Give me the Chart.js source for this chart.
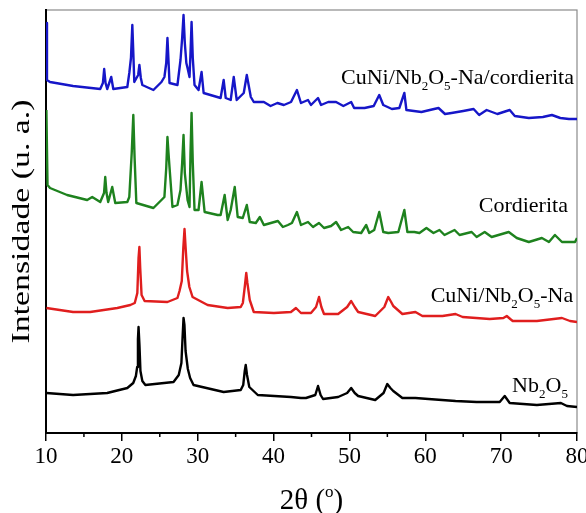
<!DOCTYPE html>
<html>
<head>
<meta charset="utf-8">
<script src="https://cdn.jsdelivr.net/npm/chart.js@4.4.1/dist/chart.umd.min.js"></script>
<style>
  body { margin: 0; background: #fff; }
</style>
</head>
<body>
<canvas id="xrdChart" width="586" height="513"></canvas>
<script>
// 2theta (degrees) and intensity (a.u., stacked offsets)
var cordNaTheta = [10.0, 10.13, 10.53, 13.57, 17.15, 17.5, 17.67, 17.85, 18.07, 18.6, 18.87, 20.72, 20.98, 21.2, 21.38, 21.52, 21.64, 22.15, 22.31, 22.5, 22.7, 24.16, 25.22, 25.61, 25.85, 26.01, 26.15, 26.28, 27.33, 27.73, 27.95, 28.13, 28.3, 28.5, 28.66, 28.92, 29.05, 29.19, 29.35, 29.58, 30.11, 30.51, 30.78, 33.02, 33.42, 33.69, 34.35, 34.75, 35.14, 36.07, 36.47, 37.0, 37.39, 38.72, 39.6, 40.5, 41.36, 42.3, 43.08, 43.61, 44.54, 44.93, 45.86, 46.26, 47.2, 48.24, 49.2, 50.23, 50.62, 52.0, 53.2, 53.93, 54.46, 55.6, 56.58, 57.24, 57.51, 59.49, 60.6, 61.74, 62.6, 63.46, 65.0, 66.37, 67.1, 68.09, 69.5, 71.13, 71.8, 73.65, 75.5, 76.69, 77.8, 78.94, 80.0];
var cordNaInt   = [410, 353, 351, 347, 344, 350, 364, 350, 344, 356, 344, 346, 360, 375, 408, 378, 351, 358, 368, 355, 348, 343, 351, 356, 370, 395, 372, 350, 348, 373, 395, 418, 390, 370, 365, 356, 380, 411, 375, 348, 343, 361, 340, 335, 353, 335, 333, 356, 333, 340, 358, 336, 331, 331, 327, 330, 328, 331, 343, 330, 333, 328, 335, 328, 331, 331, 327, 331, 325, 325, 327, 338, 328, 324, 325, 340, 323, 321, 323, 325, 319, 320, 322, 324, 318, 323, 319, 323, 317, 315, 316, 318, 315, 314, 314];

var cordTheta = [10.05, 10.2, 10.53, 12.78, 15.43, 16.09, 17.15, 17.65, 17.81, 17.98, 18.2, 18.73, 19.13, 20.72, 20.98, 21.3, 21.51, 21.68, 21.91, 24.16, 25.22, 25.61, 25.85, 26.01, 26.15, 26.28, 26.67, 27.33, 27.73, 27.95, 28.13, 28.3, 28.66, 28.92, 29.05, 29.19, 29.35, 29.58, 30.11, 30.51, 30.91, 32.63, 33.02, 33.55, 33.95, 34.35, 34.88, 35.27, 35.94, 36.47, 36.86, 37.66, 38.19, 38.72, 39.64, 40.57, 41.23, 41.89, 42.42, 43.08, 43.61, 44.54, 45.2, 45.99, 46.65, 47.58, 48.24, 48.9, 49.83, 50.49, 51.55, 52.21, 52.61, 53.27, 53.93, 54.46, 55.12, 56.45, 57.24, 57.64, 58.56, 59.23, 60.15, 61.08, 61.87, 62.53, 63.86, 64.52, 66.11, 66.77, 67.83, 68.75, 71.0, 72.06, 73.65, 75.37, 76.3, 77.09, 78.02, 79.74, 80.0];
var cordInt   = [323, 248, 245, 238, 233, 236, 231, 240, 256, 240, 231, 246, 230, 231, 236, 280, 318, 275, 230, 225, 233, 236, 265, 296, 280, 266, 226, 228, 243, 270, 298, 260, 233, 226, 280, 320, 270, 223, 223, 251, 221, 218, 218, 238, 213, 223, 246, 216, 215, 228, 211, 210, 216, 208, 210, 212, 206, 208, 210, 221, 208, 211, 206, 210, 205, 207, 211, 203, 206, 201, 200, 208, 200, 203, 221, 201, 200, 201, 223, 201, 201, 200, 205, 200, 203, 198, 203, 198, 201, 196, 201, 196, 201, 195, 191, 195, 191, 198, 191, 191, 195];

var cuniNaTheta = [10.05, 13.57, 15.82, 19.4, 21.12, 21.7, 22.04, 22.2, 22.31, 22.42, 22.6, 23.0, 26.01, 27.33, 27.6, 27.9, 28.1, 28.26, 28.4, 28.6, 28.9, 29.32, 31.3, 33.95, 35.67, 35.95, 36.2, 36.4, 36.55, 36.86, 37.39, 40.04, 42.29, 42.95, 43.61, 44.93, 45.6, 45.99, 46.3, 46.65, 48.51, 49.7, 50.23, 50.7, 51.15, 53.4, 54.6, 55.12, 55.5, 55.78, 56.98, 58.7, 59.62, 62.27, 63.99, 64.92, 68.49, 70.3, 70.74, 71.2, 71.53, 74.71, 78.02, 79.08, 80.0];
var cuniNaInt   = [125, 121, 121, 125, 128, 130, 140, 175, 186, 165, 138, 132, 131, 135, 142, 152, 185, 204, 186, 162, 146, 136, 128, 125, 126, 130, 146, 160, 150, 133, 121, 120, 121, 125, 120, 120, 126, 136, 126, 119, 119, 126, 132, 126, 121, 117, 126, 136, 131, 127, 119, 121, 117, 117, 119, 116, 114, 115, 117, 114, 112, 112, 115, 112, 111];

var nbTheta = [10.05, 13.57, 18.07, 20.72, 21.5, 21.85, 22.02, 22.12, 22.2, 22.32, 22.45, 22.7, 23.1, 26.81, 27.5, 27.85, 28.0, 28.13, 28.25, 28.4, 28.7, 29.0, 29.45, 33.42, 35.67, 36.0, 36.2, 36.33, 36.5, 36.8, 37.92, 42.29, 43.61, 44.27, 45.5, 45.86, 46.2, 46.52, 48.51, 49.7, 50.23, 50.7, 51.15, 53.4, 54.5, 54.99, 55.4, 55.78, 56.98, 58.7, 60.42, 63.99, 66.77, 69.81, 70.47, 71.13, 74.71, 77.88, 78.68, 80.0];
var nbInt   = [40, 38, 40, 45, 50, 57, 66, 94, 106, 88, 62, 52, 48, 51, 58, 70, 95, 115, 108, 82, 64, 55, 48, 41, 43, 48, 62, 68, 58, 46, 38, 36, 35, 35, 38, 47, 38, 34, 36, 40, 45, 40, 37, 33, 40, 49, 45, 42, 35, 35, 34, 32, 31, 31, 37, 30, 28, 30, 27, 26];

var xTicks = [10, 20, 30, 40, 50, 60, 70, 80];
var minorTicks = [15, 25, 35, 45, 55, 65, 75];

function pts(xs, ys) {
  var out = [];
  for (var i = 0; i < xs.length; i++) {
    out.push({x: xs[i], y: ys[i]});
  }
  return out;
}

var serif = '"Liberation Serif", "Times New Roman", serif';

// text with sub/superscripts: each run is [text, kind]
function drawRuns(ctx, runs, x, y, size, align) {
  var subSize = Math.round(size * 0.6);
  var total = 0;
  runs.forEach(function(r) {
    ctx.font = (r[1] ? subSize : size) + 'px ' + serif;
    total += ctx.measureText(r[0]).width;
  });
  var cx = align === 'right' ? x - total : (align === 'center' ? x - total / 2 : x);
  ctx.textAlign = 'left';
  ctx.textBaseline = 'alphabetic';
  ctx.fillStyle = '#000';
  runs.forEach(function(r) {
    ctx.font = (r[1] ? subSize : size) + 'px ' + serif;
    var dy = r[1] === 'sub' ? size * 0.27 : (r[1] === 'sup' ? -size * 0.42 : 0);
    ctx.fillText(r[0], cx, y + dy);
    cx += ctx.measureText(r[0]).width;
  });
}

var labelPlugin = {
  id: 'xrdLabels',
  beforeDraw: function(chart) {
    var a = chart.chartArea, ctx = chart.ctx;
    ctx.save();
    ctx.strokeStyle = '#8a8a8a';
    ctx.lineWidth = 1.2;
    ctx.strokeRect(a.left, a.top, a.right - a.left, a.bottom - a.top);
    ctx.restore();
  },
  afterDraw: function(chart) {
    var ctx = chart.ctx, xs = chart.scales.x, ys = chart.scales.y;
    var area = chart.chartArea;
    ctx.save();
    // minor ticks
    ctx.strokeStyle = '#000';
    ctx.lineWidth = 1.5;
    minorTicks.forEach(function(t) {
      var px = xs.getPixelForValue(t);
      ctx.beginPath();
      ctx.moveTo(px, ys.bottom);
      ctx.lineTo(px, ys.bottom + 4);
      ctx.stroke();
    });
    var labels = [
      {runs: [['CuNi/Nb'], ['2', 'sub'], ['O'], ['5', 'sub'], ['-Na/cordierita']], x: 79.6, y: 349},
      {runs: [['Cordierita']], x: 78.8, y: 221},
      {runs: [['CuNi/Nb'], ['2', 'sub'], ['O'], ['5', 'sub'], ['-Na']], x: 79.5, y: 131},
      {runs: [['Nb'], ['2', 'sub'], ['O'], ['5', 'sub']], x: 78.8, y: 41}
    ];
    labels.forEach(function(l) {
      drawRuns(ctx, l.runs, xs.getPixelForValue(l.x), ys.getPixelForValue(l.y), 22, 'right');
    });
    // x axis title
    var mid = (area.left + area.right) / 2;
    drawRuns(ctx, [['2\u03b8 ('], ['o', 'sup'], [')']], mid, ys.bottom + 76, 29, 'center');
    // y axis title (the figure's lettering is stretched vertically)
    ctx.save();
    ctx.translate(29, (area.top + area.bottom) / 2);
    ctx.rotate(-Math.PI / 2);
    ctx.scale(1.3, 1);
    drawRuns(ctx, [['Intensidade (u. a.)']], 0, 0, 26, 'center');
    ctx.restore();
    ctx.restore();
  }
};

var ctx = document.getElementById('xrdChart');
var xrdChart = new Chart(ctx, {
  type: 'line',
  data: {
    datasets: [
      { label: 'CuNi/Nb2O5-Na/cordierita', data: pts(cordNaTheta, cordNaInt), borderColor: '#1616c8' },
      { label: 'Cordierita', data: pts(cordTheta, cordInt), borderColor: '#1e821e' },
      { label: 'CuNi/Nb2O5-Na', data: pts(cuniNaTheta, cuniNaInt), borderColor: '#e01e1e' },
      { label: 'Nb2O5', data: pts(nbTheta, nbInt), borderColor: '#000000' }
    ]
  },
  options: {
    responsive: false,
    animation: false,
    layout: { padding: { top: 10, right: 9, left: 0, bottom: 0 } },
    elements: {
      point: { radius: 0 },
      line: { borderWidth: 2.4, tension: 0, borderJoinStyle: 'round' }
    },
    plugins: {
      legend: { display: false },
      tooltip: { enabled: false }
    },
    scales: {
      x: {
        type: 'linear',
        min: 10,
        max: 80,
        afterFit: function(s) { s.height = 80; s.paddingLeft = 0; s.paddingRight = 0; },
        afterBuildTicks: function(s) {
          s.ticks = xTicks.map(function(v) { return {value: v}; });
        },
        grid: { display: true, drawOnChartArea: false, drawTicks: true, tickLength: 8, color: '#000', lineWidth: 1.5 },
        border: { display: true, color: '#000', width: 2 },
        ticks: { color: '#000', padding: 2, maxRotation: 0, font: { family: serif, size: 23 } }
      },
      y: {
        min: 0,
        max: 423,
        afterFit: function(s) { s.width = 46; s.paddingTop = 0; s.paddingBottom = 0; },
        grid: { display: false },
        border: { display: true, color: '#000', width: 2 },
        ticks: { display: false },
        title: { display: false }
      }
    }
  },
  plugins: [labelPlugin]
});
</script>
</body>
</html>
